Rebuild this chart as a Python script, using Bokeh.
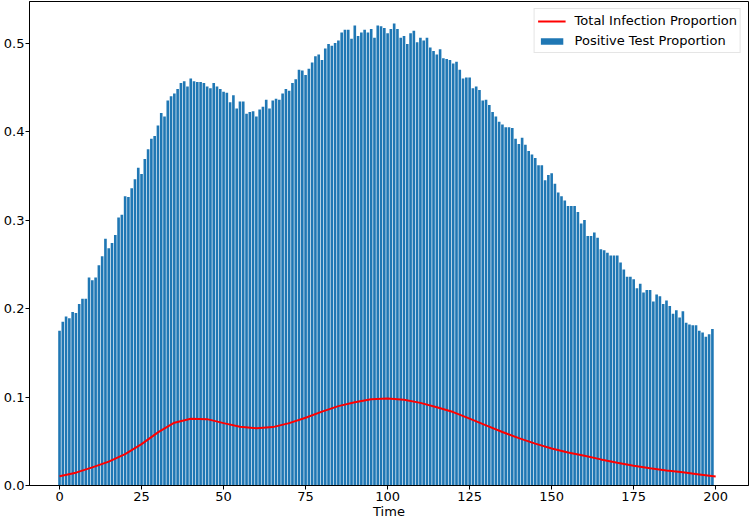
from bokeh.plotting import figure
from bokeh.models import Range1d, FixedTicker, PrintfTickFormatter, Legend, LegendItem
from bokeh.embed import file_html
from bokeh.resources import INLINE

# ---- data ----
time_steps = list(range(200))
positive_test_proportion = [
    0.175, 0.185, 0.191, 0.189, 0.196, 0.195, 0.205, 0.211, 0.211, 0.235,
    0.232, 0.235, 0.249, 0.259, 0.279, 0.268, 0.274, 0.283, 0.303, 0.306,
    0.327, 0.326, 0.336, 0.346, 0.359, 0.352, 0.369, 0.380, 0.392, 0.395,
    0.407, 0.421, 0.417, 0.435, 0.440, 0.443, 0.448, 0.455, 0.457, 0.451,
    0.460, 0.457, 0.456, 0.456, 0.455, 0.451, 0.449, 0.455, 0.451, 0.448,
    0.445, 0.444, 0.433, 0.441, 0.426, 0.434, 0.434, 0.420, 0.422, 0.423,
    0.417, 0.425, 0.428, 0.436, 0.426, 0.435, 0.437, 0.436, 0.443, 0.448,
    0.446, 0.455, 0.459, 0.470, 0.469, 0.464, 0.471, 0.478, 0.485, 0.487,
    0.481, 0.494, 0.499, 0.497, 0.500, 0.503, 0.512, 0.515, 0.515, 0.505,
    0.520, 0.508, 0.512, 0.515, 0.512, 0.516, 0.506, 0.520, 0.519, 0.517,
    0.511, 0.516, 0.522, 0.516, 0.506, 0.508, 0.499, 0.511, 0.514, 0.501,
    0.506, 0.503, 0.506, 0.495, 0.491, 0.487, 0.493, 0.483, 0.482, 0.481,
    0.477, 0.479, 0.470, 0.460, 0.461, 0.461, 0.449, 0.451, 0.447, 0.435,
    0.436, 0.430, 0.422, 0.417, 0.411, 0.408, 0.405, 0.405, 0.404, 0.392,
    0.386, 0.393, 0.385, 0.378, 0.374, 0.370, 0.362, 0.362, 0.345, 0.351,
    0.353, 0.341, 0.331, 0.327, 0.322, 0.316, 0.316, 0.316, 0.309, 0.296,
    0.300, 0.282, 0.282, 0.286, 0.280, 0.267, 0.266, 0.263, 0.260, 0.260,
    0.260, 0.252, 0.244, 0.236, 0.236, 0.233, 0.223, 0.228, 0.218, 0.221,
    0.221, 0.208, 0.216, 0.214, 0.205, 0.209, 0.203, 0.194, 0.198, 0.190,
    0.197, 0.184, 0.182, 0.181, 0.181, 0.175, 0.173, 0.168, 0.171, 0.177,
]
infection_time = list(range(0, 201, 5))
total_infection_proportion = [
    0.0104, 0.0145, 0.0205, 0.0270, 0.0355, 0.0467, 0.0600, 0.0710, 0.0755, 0.0750,
    0.0705, 0.0665, 0.0647, 0.0660, 0.0705, 0.0766, 0.0835, 0.0897, 0.0940, 0.0975,
    0.0983, 0.0970, 0.0934, 0.0885, 0.0830, 0.0755, 0.0680, 0.0605, 0.0535, 0.0473,
    0.0418, 0.0373, 0.0336, 0.0295, 0.0258, 0.0224, 0.0195, 0.0170, 0.0149, 0.0125,
    0.0101,
]
x_ticks = [0, 25, 50, 75, 100, 125, 150, 175, 200]
y_ticks = [0.0, 0.1, 0.2, 0.3, 0.4, 0.5]

FONT = "DejaVu Sans"

p = figure(width=749, height=521, output_backend="svg", toolbar_location=None,
           x_range=Range1d(-9.15, 210.0), y_range=Range1d(0, 0.547),
           min_border_left=0, min_border_right=1, min_border_top=1, min_border_bottom=0)

bars = p.vbar(x=time_steps, top=positive_test_proportion, width=0.8,
              fill_color="#1f77b4", line_color=None)
line = p.line(infection_time, total_infection_proportion, line_color="red", line_width=2)

p.xgrid.visible = False
p.ygrid.visible = False
p.outline_line_color = "black"
p.outline_line_width = 1
p.background_fill_color = "white"

for ax in (p.xaxis[0], p.yaxis[0]):
    ax.axis_line_color = "black"
    ax.major_tick_line_color = "black"
    ax.major_tick_out = 4
    ax.major_tick_in = 0
    ax.minor_tick_line_color = None
    ax.major_label_text_font = FONT
    ax.major_label_text_font_size = "13px"
    ax.major_label_text_color = "black"
    ax.major_label_standoff = 2

p.yaxis.major_label_standoff = 1
p.xaxis.ticker = FixedTicker(ticks=x_ticks)
p.yaxis.ticker = FixedTicker(ticks=y_ticks)
p.yaxis.formatter = PrintfTickFormatter(format="%.1f")

p.xaxis.axis_label = "Time"
p.xaxis.axis_label_text_font = FONT
p.xaxis.axis_label_text_font_size = "13px"
p.xaxis.axis_label_text_font_style = "normal"
p.xaxis.axis_label_text_color = "black"
p.xaxis.axis_label_standoff = 0

legend = Legend(items=[
    LegendItem(label="Total Infection Proportion", renderers=[line]),
    LegendItem(label="Positive Test Proportion", renderers=[bars]),
], location="top_right")
legend.label_text_font = FONT
legend.label_text_font_size = "13px"
legend.label_text_color = "black"
legend.border_line_color = "#cccccc"
legend.border_line_width = 1
legend.background_fill_alpha = 0.8
legend.glyph_width = 28
legend.glyph_height = 8
legend.label_height = 17
legend.label_standoff = 9
legend.padding = 3
legend.spacing = 3
legend.margin = 7
p.add_layout(legend)

open("out.html", "w").write(file_html(p, INLINE))
